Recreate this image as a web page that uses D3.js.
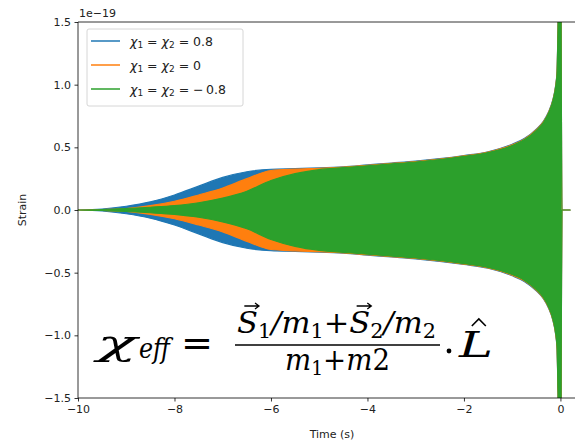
<!DOCTYPE html>
<html>
<head>
<meta charset="utf-8">
<script src="https://cdn.jsdelivr.net/npm/d3@7"></script>
<style>
  body { margin: 0; background: #fff; }
  svg { display: block; font-family: "DejaVu Sans", sans-serif; }
  .tick text { font-size: 11px; fill: #222; }
</style>
</head>
<body>
<div id="chart"></div>
<script>
// Envelope of the strain (units of 1e-19)
const times = [-10, -9.5, -9, -8.5, -8, -7.5, -7, -6.5, -6, -5.5, -5, -4.5, -4, -3.5, -3, -2.5, -2, -1.5, -1,
  -0.75, -0.5, -0.35, -0.25, -0.15, -0.1, -0.07, -0.05, -0.03, -0.01, 0, 0.01, 0.02, 0.03, 0.2];
const spinHigh = [0, 0.008, 0.03, 0.065, 0.12, 0.19, 0.26, 0.305, 0.325, 0.33, 0.336, 0.345, 0.36, 0.375, 0.39, 0.41, 0.435, 0.465, 0.525,
  0.57, 0.645, 0.71, 0.78, 0.89, 0.99, 1.11, 1.46, 1.9, 2.6, 2.6, 1.9, 0.8, 0, 0];
const spinZero = [0, 0.004, 0.012, 0.035, 0.07, 0.12, 0.175, 0.25, 0.315, 0.326, 0.333, 0.342, 0.357, 0.372, 0.387, 0.407, 0.432, 0.462, 0.52,
  0.565, 0.64, 0.705, 0.775, 0.885, 0.985, 1.1, 1.45, 1.9, 2.6, 2.6, 1.9, 0.8, 0, 0];
const spinLow = [0, 0.004, 0.012, 0.022, 0.035, 0.058, 0.095, 0.15, 0.235, 0.29, 0.322, 0.338, 0.353, 0.368, 0.383, 0.403, 0.428, 0.458, 0.515,
  0.56, 0.635, 0.7, 0.77, 0.88, 0.98, 1.09, 1.44, 1.9, 2.6, 2.6, 1.9, 0.8, 0, 0];

const seriesNames = ['0.8', '0', '\u2212\u20090.8'];
const seriesColors = ['#1f77b4', '#ff7f0e', '#2ca02c'];
const seriesValues = [spinHigh, spinZero, spinLow];

const xTicks = [-10, -8, -6, -4, -2, 0];
const yTicks = [-1.5, -1.0, -0.5, 0.0, 0.5, 1.0, 1.5];

const W = 575, H = 444;
const margin = { left: 78, top: 22, right: 586, bottom: 398 };

const svg = d3.select('#chart').append('svg')
  .attr('width', W).attr('height', H);

const x = d3.scaleLinear().domain([-10, 0.53]).range([margin.left, margin.right]);
const y = d3.scaleLinear().domain([-1.5, 1.5]).range([margin.bottom, margin.top]);

svg.append('clipPath').attr('id', 'plot-clip')
  .append('rect')
  .attr('x', margin.left).attr('y', margin.top)
  .attr('width', margin.right - margin.left).attr('height', margin.bottom - margin.top);

const plot = svg.append('g').attr('clip-path', 'url(#plot-clip)');

const area = d3.area()
  .x(d => x(d.t))
  .y0(d => y(-d.a))
  .y1(d => y(d.a))
  .curve(d3.curveMonotoneX);

seriesValues.forEach((vals, i) => {
  const pts = times.map((t, k) => ({ t: t, a: vals[k] }));
  plot.append('path')
    .attr('d', area(pts))
    .attr('fill', seriesColors[i])
    .attr('stroke', seriesColors[i])
    .attr('stroke-width', 1.2)
    .attr('stroke-linejoin', 'round');
});

// Axes
const xAxis = svg.append('g')
  .attr('transform', `translate(0,${margin.bottom})`)
  .call(d3.axisBottom(x).tickValues(xTicks).tickSize(3.5).tickPadding(3.5)
    .tickFormat(d => d3.format('d')(d).replace('-', '\u2212')));
const yAxis = svg.append('g')
  .attr('transform', `translate(${margin.left},0)`)
  .call(d3.axisLeft(y).tickValues(yTicks).tickSize(3.5).tickPadding(3.5)
    .tickFormat(d => d3.format('.1f')(d).replace('-', '\u2212')));
[xAxis, yAxis].forEach(a => {
  a.select('.domain').remove();
  a.selectAll('.tick line').attr('stroke', '#000').attr('stroke-width', 0.8);
  a.selectAll('.tick text').attr('font-family', '"DejaVu Sans", sans-serif');
});

// Spines (left, top, bottom)
svg.append('path')
  .attr('d', `M${margin.right},${margin.top}H${margin.left}V${margin.bottom}H${margin.right}`)
  .attr('fill', 'none').attr('stroke', '#000').attr('stroke-width', 0.8);

svg.append('text').attr('x', margin.left + 1).attr('y', 17)
  .attr('font-size', 11).attr('fill', '#222').text('1e\u221219');

svg.append('text').attr('x', (margin.left + margin.right) / 2).attr('y', 438)
  .attr('text-anchor', 'middle').attr('font-size', 11).attr('fill', '#222').text('Time (s)');

svg.append('text')
  .attr('transform', `translate(26,${(margin.top + margin.bottom) / 2}) rotate(-90)`)
  .attr('text-anchor', 'middle').attr('font-size', 11).attr('fill', '#222').text('Strain');

// Legend
const legend = svg.append('g').attr('transform', 'translate(87,29)');
legend.append('rect')
  .attr('width', 156).attr('height', 77).attr('rx', 2)
  .attr('fill', '#fff').attr('fill-opacity', 0.8)
  .attr('stroke', '#ccc').attr('stroke-width', 0.8);
seriesNames.forEach((name, i) => {
  const row = legend.append('g').attr('transform', `translate(0,${12 + i * 24})`);
  row.append('line').attr('x1', 4).attr('x2', 33)
    .attr('stroke', seriesColors[i]).attr('stroke-width', 1.5);
  const t = row.append('text').attr('x', 43).attr('y', 4.5)
    .attr('font-size', 12.5).attr('fill', '#222');
  t.append('tspan').attr('font-style', 'italic').text('\u03c7');
  t.append('tspan').attr('font-size', 9).attr('dy', 2.5).text('1');
  t.append('tspan').attr('dy', -2.5).text(' = ');
  t.append('tspan').attr('font-style', 'italic').text('\u03c7');
  t.append('tspan').attr('font-size', 9).attr('dy', 2.5).text('2');
  t.append('tspan').attr('dy', -2.5).text(' = ' + name);
});

// Formula annotation
const B = 345; // fraction bar line
const f = svg.append('g')
  .attr('font-family', '"DejaVu Serif", "Liberation Serif", serif')
  .attr('fill', '#000');

function mathText(parent, x0, base, size, width, parts) {
  const t = parent.append('text').attr('x', x0).attr('y', base)
    .attr('font-size', size).attr('font-style', 'italic');
  parts.forEach(p => {
    const s = t.append('tspan').text(p.s);
    if (p.sub) s.attr('font-size', size * 0.68).attr('font-style', 'normal').attr('dy', 5);
    if (p.up) s.attr('font-style', 'normal');
    if (p.back) s.attr('dy', -5);
  });
  if (width) t.attr('textLength', width).attr('lengthAdjust', 'spacingAndGlyphs');
  return t;
}

mathText(f, 97, B + 10, 36, 40, [{ s: '\u03c7' }]);
mathText(f, 139, B + 13, 27, 31, [{ s: 'eff' }]);
f.append('text').attr('x', 181).attr('y', B + 11).attr('font-size', 38)
  .attr('textLength', 32).attr('lengthAdjust', 'spacingAndGlyphs').text('=');

const num = mathText(f, 237, B - 12, 29, 199, [
  { s: 'S' }, { s: '1', sub: true }, { s: '/m', back: true }, { s: '1', sub: true },
  { s: '+', up: true, back: true }, { s: 'S' }, { s: '2', sub: true }, { s: '/m', back: true }, { s: '2', sub: true }
]);

// vector arrows over both S glyphs
[0, 6].forEach(ci => {
  const ext = num.node().getExtentOfChar(ci);
  const ax = ext.x + ext.width * 0.35, aw = ext.width * 0.7;
  f.append('path')
    .attr('d', `M${ax},${B - 39}H${ax + aw}M${ax + aw - 4},${B - 42}L${ax + aw},${B - 39}L${ax + aw - 4},${B - 36}`)
    .attr('fill', 'none').attr('stroke', '#000').attr('stroke-width', 1.3);
});

f.append('line').attr('x1', 235).attr('x2', 440).attr('y1', B).attr('y2', B)
  .attr('stroke', '#000').attr('stroke-width', 1.6);

mathText(f, 285, B + 25, 29, 105, [
  { s: 'm' }, { s: '1', sub: true }, { s: '+', up: true, back: true }, { s: 'm' }, { s: '2', up: true }
]);

f.append('circle').attr('cx', 449).attr('cy', B + 6).attr('r', 2.4);
const L = mathText(f, 459, B + 12, 36, 34, [{ s: 'L' }]);
const lb = L.node().getBBox();
const hx = lb.x + lb.width * 0.6;
f.append('path').attr('d', `M${hx - 7},${B - 19}L${hx},${B - 26}L${hx + 7},${B - 19}`)
  .attr('fill', 'none').attr('stroke', '#000').attr('stroke-width', 1.6);
</script>
</body>
</html>
